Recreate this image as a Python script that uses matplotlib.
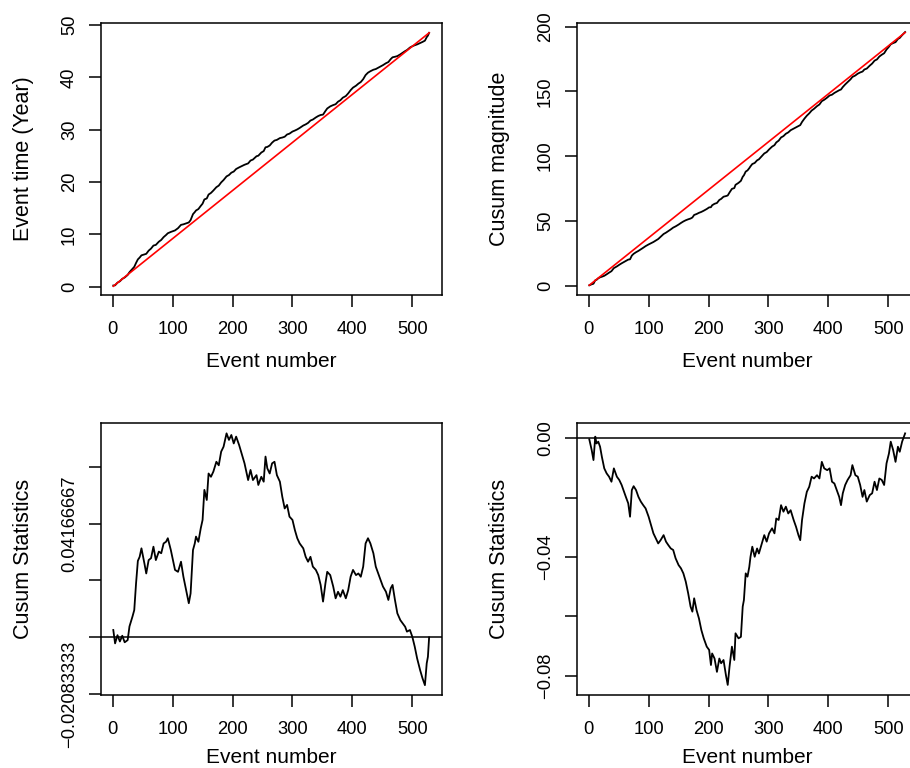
import matplotlib
matplotlib.use("Agg")
import matplotlib.pyplot as plt
import numpy as np

plt.rcParams['font.family'] = ['Liberation Sans', 'DejaVu Sans']

# nombre total d'événements, temps total (années) et magnitude cumulée totale
n_events = 528
total_years = 48.5
total_mag = 195.5

# statistique cusum du temps des événements
time_events = [1, 4, 8, 12, 16, 20, 25, 28, 33, 36, 39, 42, 45, 48, 53, 56, 60, 64, 68, 72,
               77, 81, 85, 89, 92, 97, 104, 109, 114, 118, 123, 127, 130, 134, 137, 139, 143, 147, 150, 153,
               157, 160, 164, 168, 173, 177, 181, 185, 190, 194, 198, 202, 206, 211, 215, 220, 226, 230, 234, 240,
               243, 248, 252, 255, 258, 262, 266, 270, 274, 279, 283, 287, 291, 295, 300, 304, 308, 312, 318, 322,
               326, 330, 334, 339, 343, 347, 351, 355, 358, 363, 368, 372, 376, 380, 384, 389, 393, 397, 401, 406,
               410, 414, 418, 422, 426, 430, 435, 439, 443, 447, 451, 456, 460, 464, 467, 471, 475, 480, 484, 488,
               491, 496, 500, 504, 508, 513, 517, 521, 524, 526, 528]
time_stat = [0.0027, -0.0022, 0.0008, -0.0015, 0.0006, -0.0018, -0.0010, 0.0040, 0.0076, 0.0100, 0.0198, 0.0280, 0.0295, 0.0326, 0.0270, 0.0234, 0.0283, 0.0290, 0.0332, 0.0283,
             0.0314, 0.0308, 0.0344, 0.0350, 0.0363, 0.0320, 0.0247, 0.0240, 0.0277, 0.0222, 0.0167, 0.0125, 0.0161, 0.0320, 0.0344, 0.0369, 0.0350, 0.0400, 0.0430, 0.0540,
             0.0503, 0.0600, 0.0588, 0.0607, 0.0643, 0.0630, 0.0680, 0.0698, 0.0747, 0.0723, 0.0741, 0.0710, 0.0735, 0.0704, 0.0674, 0.0637, 0.0576, 0.0613, 0.0576, 0.0594,
             0.0558, 0.0588, 0.0570, 0.0662, 0.0619, 0.0600, 0.0637, 0.0643, 0.0594, 0.0570, 0.0515, 0.0472, 0.0485, 0.0442, 0.0430, 0.0393, 0.0363, 0.0344, 0.0326, 0.0295,
             0.0277, 0.0295, 0.0259, 0.0247, 0.0228, 0.0192, 0.0131, 0.0198, 0.0240, 0.0228, 0.0186, 0.0143, 0.0167, 0.0149, 0.0173, 0.0143, 0.0173, 0.0222, 0.0247, 0.0228,
             0.0234, 0.0222, 0.0259, 0.0344, 0.0363, 0.0344, 0.0308, 0.0259, 0.0234, 0.0210, 0.0186, 0.0167, 0.0137, 0.0180, 0.0192, 0.0137, 0.0088, 0.0063, 0.0051, 0.0039,
             0.0021, 0.0027, 0.0002, -0.0034, -0.0077, -0.0120, -0.0150, -0.0175, -0.0095, -0.0071, 0.0000]

# statistique cusum de la magnitude
mag_events = [1, 5, 8, 11, 13, 16, 19, 22, 26, 30, 34, 38, 42, 47, 51, 55, 59, 62, 66, 69,
              72, 75, 79, 83, 87, 91, 95, 100, 104, 108, 112, 116, 120, 125, 129, 133, 137, 141, 145, 150,
              154, 158, 162, 166, 170, 173, 176, 180, 184, 188, 192, 197, 201, 204, 206, 210, 214, 218, 221, 225,
              229, 232, 235, 239, 243, 245, 250, 254, 257, 259, 262, 265, 268, 270, 273, 277, 281, 284, 289, 293,
              297, 301, 306, 310, 313, 317, 321, 325, 329, 333, 337, 342, 346, 350, 353, 356, 360, 364, 368, 372,
              376, 381, 385, 389, 393, 398, 402, 406, 410, 414, 418, 421, 424, 428, 432, 437, 440, 445, 449, 453,
              457, 460, 464, 469, 473, 477, 481, 485, 489, 493, 497, 501, 504, 508, 512, 516, 519, 523, 526, 528]
mag_stat = [-0.0003, -0.0039, -0.0073, 0.0006, -0.0017, -0.0011, -0.0028, -0.0062, -0.0101, -0.0118, -0.0129, -0.0146, -0.0101, -0.0129, -0.0140, -0.0157, -0.0180, -0.0197, -0.0219, -0.0264,
            -0.0174, -0.0161, -0.0174, -0.0197, -0.0213, -0.0225, -0.0236, -0.0264, -0.0292, -0.0320, -0.0337, -0.0354, -0.0343, -0.0326, -0.0348, -0.0360, -0.0371, -0.0376, -0.0404, -0.0427,
            -0.0438, -0.0455, -0.0483, -0.0522, -0.0567, -0.0584, -0.0539, -0.0579, -0.0607, -0.0646, -0.0674, -0.0702, -0.0713, -0.0764, -0.0725, -0.0742, -0.0787, -0.0742, -0.0758, -0.0747,
            -0.0798, -0.0831, -0.0770, -0.0702, -0.0747, -0.0657, -0.0674, -0.0669, -0.0567, -0.0545, -0.0455, -0.0466, -0.0433, -0.0399, -0.0365, -0.0399, -0.0371, -0.0388, -0.0354, -0.0326,
            -0.0348, -0.0320, -0.0303, -0.0320, -0.0270, -0.0275, -0.0225, -0.0247, -0.0230, -0.0253, -0.0242, -0.0275, -0.0298, -0.0326, -0.0343, -0.0275, -0.0219, -0.0180, -0.0163, -0.0129,
            -0.0135, -0.0124, -0.0135, -0.0079, -0.0101, -0.0107, -0.0101, -0.0146, -0.0152, -0.0174, -0.0197, -0.0225, -0.0185, -0.0157, -0.0140, -0.0124, -0.0090, -0.0124, -0.0129, -0.0157,
            -0.0197, -0.0174, -0.0213, -0.0191, -0.0185, -0.0146, -0.0174, -0.0135, -0.0140, -0.0157, -0.0084, -0.0051, -0.0011, -0.0039, -0.0079, -0.0028, -0.0045, -0.0011, 0.0006, 0.0017]

x_ticks = [0, 100, 200, 300, 400, 500]

# courbes cumulées reconstruites à partir des statistiques
t_ev = np.array(time_events)
m_ev = np.array(mag_events)
event_time = total_years * (np.array(time_stat) + t_ev / n_events)
cum_mag = total_mag * (np.array(mag_stat) + m_ev / n_events)

fig = plt.figure(figsize=(9.1, 7.68), dpi=100)
W, H = 910, 768

def make_ax(x0, y0, x1, y1, xlab_y):
    ax = fig.add_axes([x0 / W, 1 - y1 / H, (x1 - x0) / W, (y1 - y0) / H])
    for s in ax.spines.values():
        s.set_linewidth(1.1)
    ax.tick_params(axis='both', direction='out', length=8.3, width=1.1, labelsize=13.2)
    ax.tick_params(axis='x', pad=10.5)
    ax.tick_params(axis='y', pad=8, labelrotation=90)
    ax.set_xlim(-20, 549.5)
    ax.set_xticks(x_ticks)
    ax.set_xlabel("Event number", fontsize=15)
    ax.xaxis.set_label_coords(0.5, xlab_y)
    ax.xaxis.label.set_va('baseline')
    return ax

# haut gauche
ax1 = make_ax(100.7, 23, 442, 294.7, -0.265)
ax1.plot(t_ev, event_time, color='black', lw=1.3)
ax1.plot([1, n_events], [total_years / n_events, total_years], color='red', lw=1.2)
ax1.set_ylim(-1.53, 50.38)
ax1.set_yticks([0, 10, 20, 30, 40, 50])
ax1.set_ylabel("Event time (Year)", fontsize=15.5)

# haut droite
ax2 = make_ax(576.7, 23.3, 918, 294.7, -0.265)
ax2.plot(m_ev, cum_mag, color='black', lw=1.3)
ax2.plot([1, n_events], [total_mag / n_events, total_mag], color='red', lw=1.2)
ax2.set_ylim(-6.95, 202.6)
ax2.set_yticks([0, 50, 100, 150, 200])
ax2.set_ylabel("Cusum magnitude", fontsize=15.5)

# bas gauche
ax3 = make_ax(100.7, 422.7, 442, 695, -0.25)
ax3.plot(t_ev, time_stat, color='black', lw=1.3)
ax3.axhline(0, color='black', lw=1.1)
ax3.set_ylim(-0.0211, 0.0786)
ax3.set_yticks([-1 / 48, 0, 1 / 48, 2 / 48, 3 / 48])
ax3.set_yticklabels(["\u22120.02083333", "", "", "0.04166667", ""])
ax3.set_ylabel("Cusum Statistics", fontsize=15.5)

# bas droite
ax4 = make_ax(576.7, 422.7, 918, 695, -0.25)
ax4.plot(m_ev, mag_stat, color='black', lw=1.3)
ax4.axhline(0, color='black', lw=1.1)
ax4.set_ylim(-0.0865, 0.0053)
ax4.set_yticks([0, -0.02, -0.04, -0.06, -0.08])
ax4.set_yticklabels(["0.00", "", "\u22120.04", "", "\u22120.08"])
ax4.set_ylabel("Cusum Statistics", fontsize=15.5)

for ax in (ax1, ax2, ax3, ax4):
    for lab in ax.get_yticklabels():
        lab.set_va('center')
    ax.yaxis.set_label_coords(-0.195, 0.5)

fig.savefig("out.png", dpi=100)
